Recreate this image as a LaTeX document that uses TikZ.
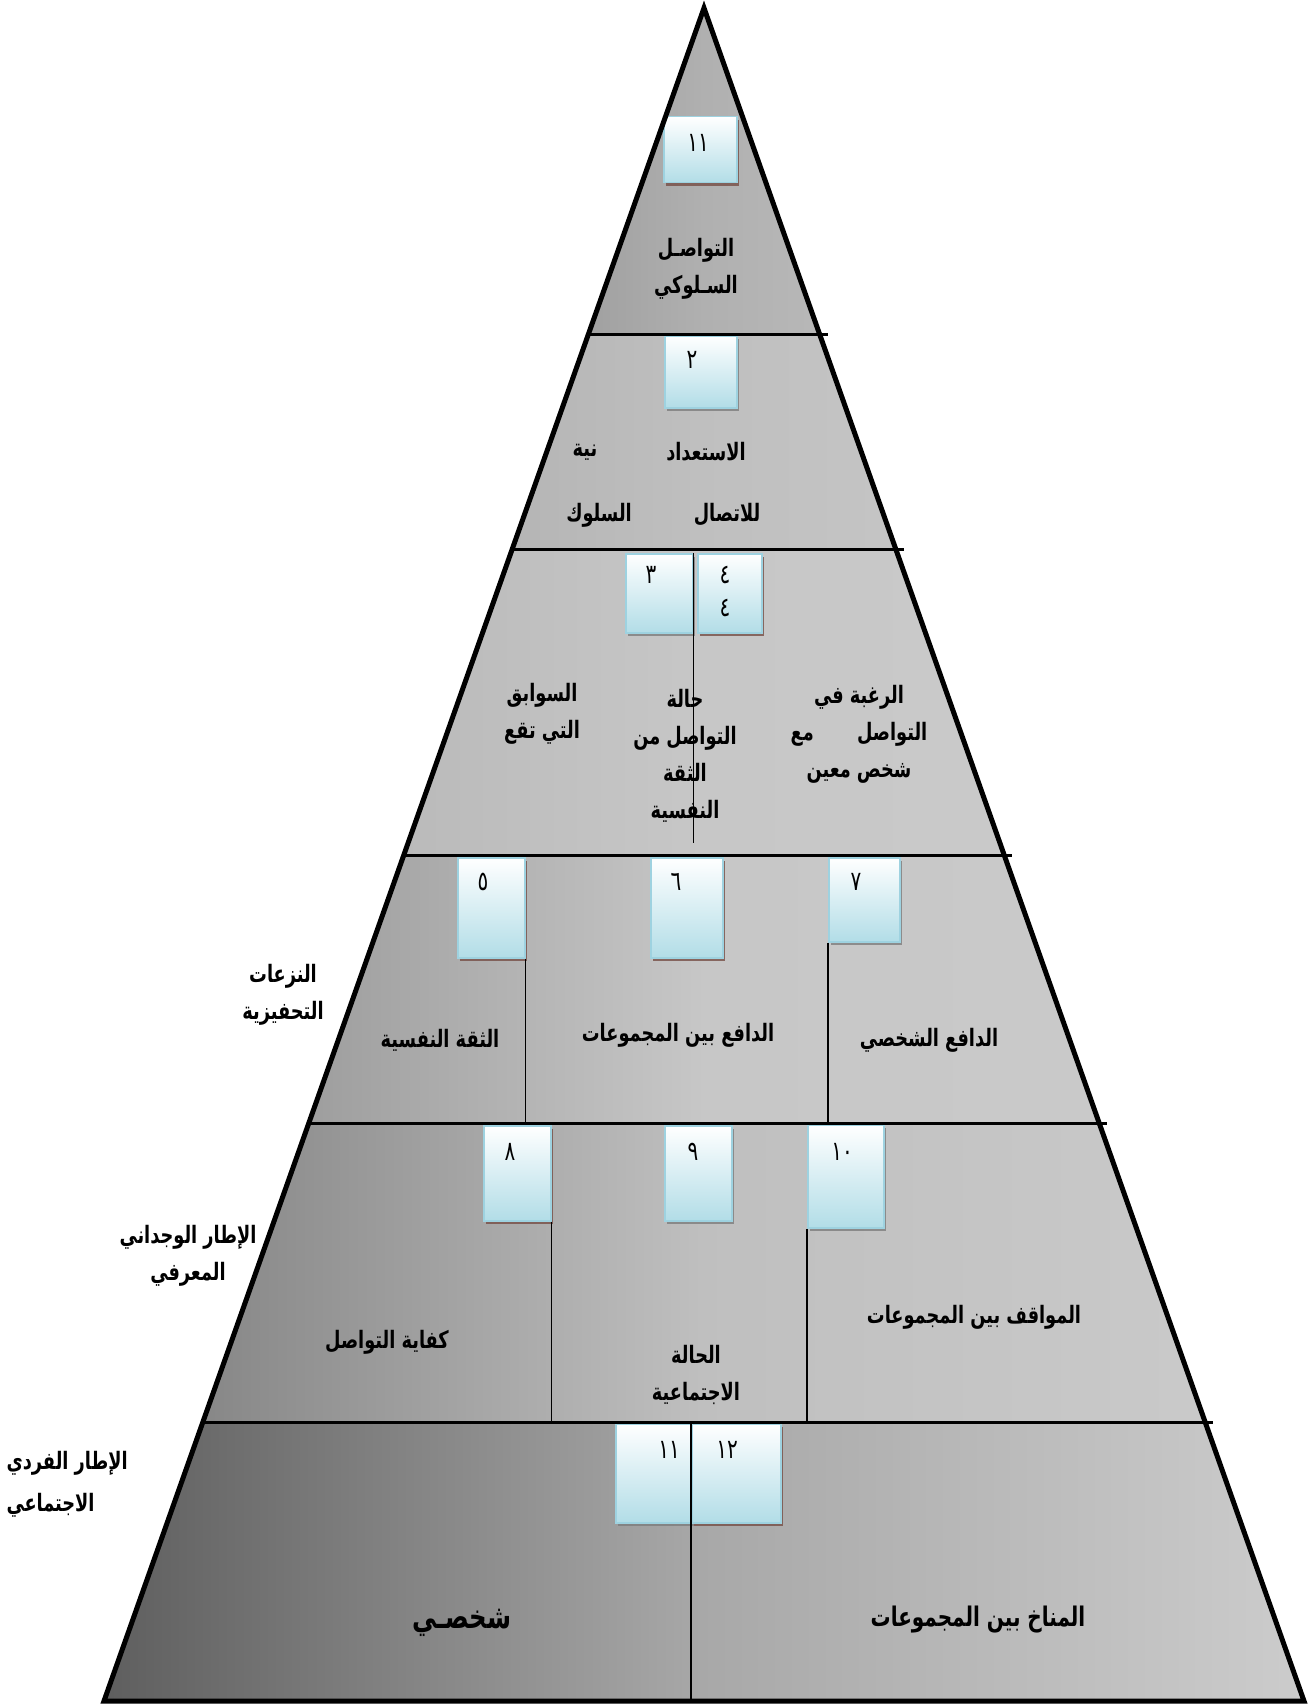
\documentclass[tikz,border=0pt]{standalone}
\usepackage{fontspec}
\usetikzlibrary{calc,shadows}
\newfontfamily\arabicfont[Script=Arabic,FakeStretch=0.74]{DejaVu Sans}
\TeXXeTstate=1
\newcommand{\artext}[1]{\beginR #1\endR}
\definecolor{boxblue}{RGB}{178,221,231}
\definecolor{boxedge}{RGB}{158,210,224}
\definecolor{shadowbrown}{RGB}{118,78,70}
\definecolor{shadowgrey}{RGB}{125,125,125}
\tikzset{
  numbox/.style={rectangle, draw=boxedge, line width=1.5pt, top color=white, bottom color=boxblue,
    inner sep=0pt, anchor=north west,
    drop shadow={shadow xshift=2pt, shadow yshift=-3pt, fill=#1, opacity=0.8}},
  numbox/.default=shadowbrown,
  num/.style={font=\arabicfont\fontsize{27}{33}\selectfont, align=center},
  lbl/.style={font=\arabicfont\bfseries\fontsize{24}{37}\selectfont, align=center},
  biglbl/.style={font=\arabicfont\bfseries\fontsize{27}{42}\selectfont, align=center},
  sep/.style={line width=3pt},
  divider/.style={line width=1.3pt},
}

\begin{document}
\begin{tikzpicture}[x=1pt,y=-1pt]
  \useasboundingbox (0,0) rectangle (1311,1704);
  \coordinate (apex) at (704,8);
  \coordinate (bl) at (104,1701);
  \coordinate (br) at (1304,1701);
  % grey bands, darker to the left
  \foreach \ta/\tb/\cl/\cm/\cr in {0/0.1926/black!37/black!31/black!28,
      0.1926/0.3201/black!29/black!25/black!23,
      0.3201/0.5003/black!27/black!22/black!21, 0.5003/0.6586/black!38/black!22/black!21,
      0.6586/0.8352/black!47/black!25/black!21, 0.8352/1/black!63/black!34/black!20}
    \shade[left color=\cl, right color=\cr, middle color=\cm] ($(apex)!\ta!(bl)$) -- ($(apex)!\tb!(bl)$)
      -- ($(apex)!\tb!(br)$) -- ($(apex)!\ta!(br)$) -- cycle;

  \node[numbox, minimum width=73pt, minimum height=66pt] (b1) at (663,116) {};
  \node[numbox=shadowgrey, minimum width=72pt, minimum height=72pt] (b2) at (664,335) {};
  \node[numbox=shadowgrey, minimum width=67pt, minimum height=79pt] (b3) at (625,553) {};
  \node[numbox, minimum width=64pt, minimum height=79pt] (b4) at (697,553) {};
  \node[numbox, minimum width=67pt, minimum height=100pt] (b5) at (457,857) {};
  \node[numbox, minimum width=72pt, minimum height=100pt] (b6) at (650,857) {};
  \node[numbox=shadowgrey, minimum width=71pt, minimum height=84pt] (b7) at (828,857) {};
  \node[numbox, minimum width=67pt, minimum height=95pt] (b8) at (483,1125) {};
  \node[numbox=shadowgrey, minimum width=67pt, minimum height=95pt] (b9) at (664,1125) {};
  \node[numbox=shadowgrey, minimum width=76pt, minimum height=103pt] (b10) at (807,1124) {};
  \node[numbox=shadowgrey, minimum width=76pt, minimum height=99pt] (b11) at (615,1423) {};
  \node[numbox, minimum width=89pt, minimum height=99pt] (b12) at (691,1423) {};

  \node[num] (n1) at (698,143) {١١};
  \node[num] (n2) at (692,360) {٢};
  \node[num] (n3) at (651,575) {٣};
  \node[num] (n4) at (725,591) {٤\\٤};
  \node[num] (n5) at (483,882) {٥};
  \node[num] (n6) at (676,882) {٦};
  \node[num] (n7) at (856,882) {٧};
  \node[num] (n8) at (510,1152) {٨};
  \node[num] (n9) at (693,1152) {٩};
  \node[num] (n10) at (842,1152) {١٠};
  \node[num] (n11) at (669,1450) {١١};
  \node[num] (n12) at (727,1450) {١٢};

  \foreach \t/\name in {0.1926/L1, 0.3201/L2, 0.5003/L3, 0.6586/L4, 0.8352/L5}
    \draw[sep] ($(apex)!\t!(bl)$) coordinate (\name) -- ($(apex)!\t!(br) + (8,0)$);

  \draw[divider] (b3.north east) -- ([yshift=12pt]b3.north east |- L3);
  \draw[divider] (b5.south east) -- (b5.south east |- L4);
  \draw[divider] (b7.south west) -- (b7.south west |- L4);
  \draw[divider] (b8.south east) -- (b8.south east |- L5);
  \draw[divider] (b10.south west) -- (b10.south west |- L5);
  \draw[divider] (b12.north west) -- (b12.north west |- bl);

  \draw[line width=5pt, line join=miter] (apex) -- (bl) -- (br) -- cycle;

  \node[lbl] (t1) at (696,269) {\artext{التواصـل}\\\artext{السـلوكي}};
  \node[lbl] (t2a) at (706,452) {\artext{الاستعداد}};
  \node[lbl] (t2b) at (727,515) {\artext{للاتصال}};
  \node[lbl] (t2c) at (585,452) {\artext{نية}};
  \node[lbl] (t2d) at (599,515) {\artext{السلوك}};
  \node[lbl] (t3) at (542,714) {\artext{السوابق}\\\artext{التي تقع}};
  \node[lbl] (t4) at (685,756) {\artext{حالة}\\\artext{التواصل من}\\\artext{الثقة}\\\artext{النفسية}};
  \node[lbl] (t4b) at (859,734) {\artext{الرغبة في}\\\artext{التواصل\hspace{1.8em}مع}\\\artext{شخص معين}};
  \node[lbl] (t5) at (440,1040) {\artext{الثقة النفسية}};
  \node[lbl] (t6) at (678,1035) {\artext{الدافع بين المجموعات}};
  \node[lbl] (t7) at (929,1040) {\artext{الدافع الشخصي}};
  \node[lbl] (t8) at (387,1342) {\artext{كفاية التواصل}};
  \node[lbl] (t9) at (696,1375) {\artext{الحالة}\\\artext{الاجتماعية}};
  \node[lbl] (t10) at (974,1317) {\artext{المواقف بين المجموعات}};
  \node[biglbl, font=\arabicfont\bfseries\fontsize{33}{42}\selectfont] (t11) at (462,1623) {\artext{شخصـي}};
  \node[biglbl] (t12) at (978,1620) {\artext{المناخ بين المجموعات}};
  % side labels
  \node[lbl] (s4) at (283,995) {\artext{النزعات}\\\artext{التحفيزية}};
  \node[lbl] (s5) at (188,1256) {\artext{الإطار الوجداني}\\\artext{المعرفي}};
  \node[lbl, align=left, anchor=west, font=\arabicfont\bfseries\fontsize{24}{42}\selectfont] (s6) at (3,1484) {\artext{الإطار الفردي}\\\artext{الاجتماعي}};
\end{tikzpicture}
\end{document}
